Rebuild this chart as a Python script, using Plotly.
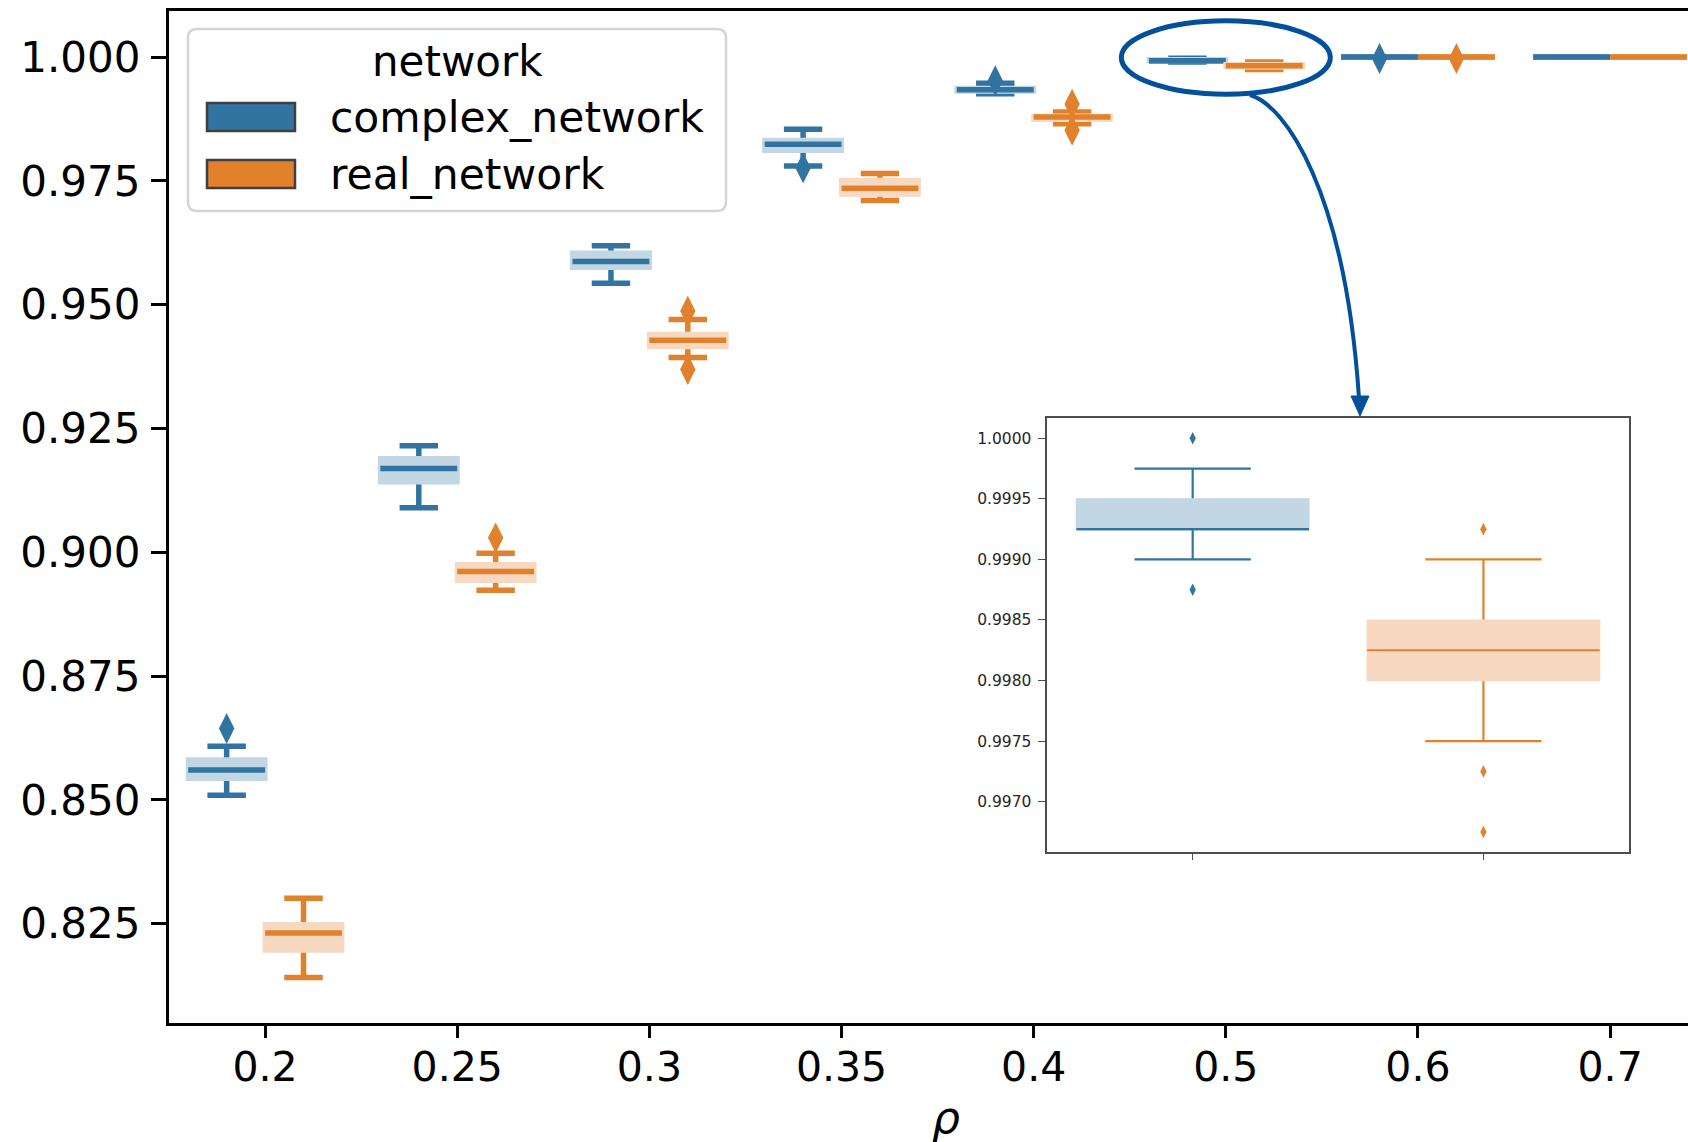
import plotly.graph_objects as go

# ---------------------------------------------------------------- data
CATEGORIES = ["0.2", "0.25", "0.3", "0.35", "0.4", "0.5", "0.6", "0.7"]
SERIES = ["complex_network", "real_network"]

# box statistics per rho value: whisker ends, quartiles and median
complex_lower = [0.8509, 0.9090, 0.9543, 0.9780, 0.9926, 0.99900, 1.0, 1.0]
complex_q1 = [0.8543, 0.9142, 0.9575, 0.9811, 0.9931, 0.99925, 1.0, 1.0]
complex_median = [0.8560, 0.9169, 0.9587, 0.9824, 0.9934, 0.99925, 1.0, 1.0]
complex_q3 = [0.8581, 0.9189, 0.9604, 0.9832, 0.9937, 0.99950, 1.0, 1.0]
complex_upper = [0.8608, 0.9215, 0.9619, 0.9854, 0.9947, 0.99975, 1.0, 1.0]
complex_outliers = [[0.8644], [], [], [0.9776], [0.9952], [], [0.9997], []]

real_lower = [0.8141, 0.8923, 0.9393, 0.9710, 0.9865, 0.99750, 1.0, 1.0]
real_q1 = [0.8196, 0.8943, 0.9415, 0.9723, 0.9874, 0.99800, 1.0, 1.0]
real_median = [0.8231, 0.8961, 0.9428, 0.9735, 0.9879, 0.99825, 1.0, 1.0]
real_q3 = [0.8248, 0.8975, 0.9440, 0.9751, 0.9881, 0.99850, 1.0, 1.0]
real_upper = [0.8301, 0.8998, 0.9470, 0.9765, 0.9889, 0.99900, 1.0, 1.0]
real_outliers = [[], [0.9029], [0.9487, 0.9369], [], [0.9905, 0.9852], [], [0.9997], []]

# magnified view of rho = 0.5
zoom_complex = dict(lower=0.99900, q1=0.99925, median=0.99925, q3=0.99950, upper=0.99975,
                    outliers=[1.0000, 0.99875])
zoom_real = dict(lower=0.99750, q1=0.99800, median=0.99825, q3=0.99850, upper=0.99900,
                 outliers=[0.99925, 0.99725, 0.99675])

MAIN_YTICKS = [0.825, 0.850, 0.875, 0.900, 0.925, 0.950, 0.975, 1.000]
ZOOM_YTICKS = [0.9970, 0.9975, 0.9980, 0.9985, 0.9990, 0.9995, 1.0000]

# ---------------------------------------------------------------- style
BLUE, BLUE_LIGHT = "#3274a1", "rgb(194,214,227)"
ORANGE, ORANGE_LIGHT = "#e1812c", "rgb(246,217,192)"
NAVY = "#02509c"
FONT = "DejaVu Sans"

W, H = 1688, 1142
ML, MR, MT, MB = 169, 0, 11, 119
PW, PH = W - ML - MR, H - MT - MB


def paper(px, py):
    """Pixel position on the page -> paper coordinates."""
    return (px - ML) / PW, (H - MB - py) / PH


fig = go.Figure()


def add_box_group(x, lower, q1, med, q3, upper, dark, light, width, lw, edge, xa, ya):
    common = dict(x=x, width=width, whiskerwidth=0.5, boxpoints=False, xaxis=xa, yaxis=ya,
                  showlegend=False, hoverinfo="skip")
    # whiskers and caps (their inner part is covered by the box drawn next)
    fig.add_trace(go.Box(q1=med, median=med, q3=med, lowerfence=lower, upperfence=upper,
                         line=dict(color=dark, width=lw), fillcolor=dark, **common))
    # pale interquartile box
    fig.add_trace(go.Box(q1=q1, median=q1, q3=q3, lowerfence=q1, upperfence=q3,
                         line=dict(color=light, width=edge), fillcolor=light, **common))
    # median line on top
    fig.add_trace(go.Box(q1=med, median=med, q3=med, lowerfence=med, upperfence=med,
                         line=dict(color=dark, width=lw), fillcolor=dark, **common))


def add_outliers(x, ys, color, size, xa, ya):
    fig.add_trace(go.Scatter(x=x, y=ys, mode="markers", xaxis=xa, yaxis=ya,
                             marker=dict(symbol="diamond-tall", size=size, color=color,
                                         line=dict(width=0)),
                             showlegend=False, hoverinfo="skip"))


# main plot: two hue boxes per rho value
OFFSET, BOX_W = 0.2, 0.4
for stats, dark, light, sign in [
    ((complex_lower, complex_q1, complex_median, complex_q3, complex_upper, complex_outliers),
     BLUE, BLUE_LIGHT, -1),
    ((real_lower, real_q1, real_median, real_q3, real_upper, real_outliers),
     ORANGE, ORANGE_LIGHT, 1),
]:
    lower, q1, med, q3, upper, outl = stats
    pos = [i + sign * OFFSET for i in range(len(CATEGORIES))]
    add_box_group(pos, lower, q1, med, q3, upper, dark, light, BOX_W, 5.5, 5, "x", "y")
    ox = [p for p, vals in zip(pos, outl) for _ in vals]
    oy = [v for vals in outl for v in vals]
    add_outliers(ox, oy, dark, 22, "x", "y")

# inset: rho = 0.5 only, one box per network
for i, (z, dark, light) in enumerate([(zoom_complex, BLUE, BLUE_LIGHT),
                                      (zoom_real, ORANGE, ORANGE_LIGHT)]):
    add_box_group([i], [z["lower"]], [z["q1"]], [z["median"]], [z["q3"]], [z["upper"]],
                  dark, light, 0.8, 2.2, 1.2, "x2", "y2")
    add_outliers([i] * len(z["outliers"]), z["outliers"], dark, 9, "x2", "y2")

# ---------------------------------------------------------------- axes
cat_px = 192.15
fig.update_layout(
    width=W, height=H,
    margin=dict(l=ML, r=MR, t=MT, b=MB, pad=0),
    paper_bgcolor="white", plot_bgcolor="white",
    font=dict(family=FONT, color="#000000"),
    showlegend=False,
    xaxis=dict(
        range=[-0.5, -0.5 + PW / cat_px], tickmode="array",
        tickvals=list(range(len(CATEGORIES))), ticktext=CATEGORIES,
        showgrid=False, zeroline=False, showline=True, linecolor="#000000", linewidth=3.3,
        mirror=True, ticks="outside", ticklen=12, tickwidth=3, tickcolor="#000000",
        tickfont=dict(size=41, family=FONT, color="#000000"), ticklabelstandoff=-6,
    ),
    yaxis=dict(
        range=[0.80493, 1.00929], tickmode="array", tickvals=MAIN_YTICKS,
        ticktext=[f"{v:.3f}" for v in MAIN_YTICKS],
        showgrid=False, zeroline=False, showline=True, linecolor="#000000", linewidth=3.3,
        ticks="outside", ticklen=15, tickwidth=3.3, tickcolor="#000000",
        tickfont=dict(size=42, family=FONT, color="#000000"), ticklabelstandoff=2,
    ),
)

ix0, iy0 = paper(1047.3, 851.7)
ix1, iy1 = paper(1628.8, 418.3)
fig.update_layout(
    xaxis2=dict(
        domain=[ix0, ix1], anchor="y2", range=[-0.5, 1.5], tickmode="array",
        tickvals=[0, 1], ticktext=["", ""],
        showgrid=False, zeroline=False, showline=True, linecolor="#4d4d4d", linewidth=1.6,
        mirror=True, ticks="outside", ticklen=6, tickwidth=1.4, tickcolor="#4d4d4d",
    ),
    yaxis2=dict(
        domain=[iy0, iy1], anchor="x2", range=[0.996587, 1.000165], tickmode="array",
        tickvals=ZOOM_YTICKS, ticktext=[f"{v:.4f}" for v in ZOOM_YTICKS],
        showgrid=False, zeroline=False, showline=True, linecolor="#4d4d4d", linewidth=1.6,
        mirror=True, ticks="outside", ticklen=8, tickwidth=1.4, tickcolor="#4d4d4d",
        tickfont=dict(size=15.5, family=FONT, color="#262626"), ticklabelstandoff=3,
    ),
)

# ---------------------------------------------------------------- annotations
shapes = []
annotations = []

# ellipse around the rho = 0.5 boxes and the curved arrow down to the inset
shapes.append(dict(type="circle", xref="x", yref="y", x0=5 - 0.544, x1=5 + 0.544,
                   y0=0.9999 - 0.00741, y1=0.9999 + 0.00741,
                   line=dict(color=NAVY, width=5), layer="above"))


def pts(*xy):
    return [paper(x, y) for x, y in xy]


(a0, a1, a2, a3) = pts((1250, 95), (1285, 105), (1345, 190), (1359, 398))
shapes.append(dict(type="path", xref="paper", yref="paper",
                   path=f"M{a0[0]},{a0[1]} C{a1[0]},{a1[1]} {a2[0]},{a2[1]} {a3[0]},{a3[1]}",
                   line=dict(color=NAVY, width=4), layer="above"))
(h0, h1, h2) = pts((1351, 396), (1369, 396), (1360, 416))
shapes.append(dict(type="path", xref="paper", yref="paper",
                   path=f"M{h0[0]},{h0[1]} L{h1[0]},{h1[1]} L{h2[0]},{h2[1]} Z",
                   fillcolor=NAVY, line=dict(color=NAVY, width=1), layer="above"))

# legend frame with rounded corners
lx0, ly0, lx1, ly1, r = 188, 29, 726, 211, 9
corners = pts((lx0 + r, ly0), (lx1 - r, ly0), (lx1, ly0), (lx1, ly0 + r), (lx1, ly1 - r),
              (lx1, ly1), (lx1 - r, ly1), (lx0 + r, ly1), (lx0, ly1), (lx0, ly1 - r),
              (lx0, ly0 + r), (lx0, ly0))
c = [f"{p[0]},{p[1]}" for p in corners]
frame_path = (f"M{c[0]} L{c[1]} Q{c[2]} {c[3]} L{c[4]} Q{c[5]} {c[6]} L{c[7]} "
              f"Q{c[8]} {c[9]} L{c[10]} Q{c[11]} {c[0]} Z")
shapes.append(dict(type="path", xref="paper", yref="paper", path=frame_path,
                   fillcolor="rgba(255,255,255,0.8)", line=dict(color="#d4d4d4", width=2.5),
                   layer="above"))

for name, color, (sy0, sy1) in zip(SERIES, [BLUE, ORANGE], [(103, 131), (160, 188)]):
    p0 = paper(207, sy1)
    p1 = paper(295, sy0)
    shapes.append(dict(type="rect", xref="paper", yref="paper", x0=p0[0], y0=p0[1],
                       x1=p1[0], y1=p1[1], fillcolor=color,
                       line=dict(color="#3f3f3f", width=2.5), layer="above"))
    tx, ty = paper(328, (sy0 + sy1) / 2 + 1)
    annotations.append(dict(xref="paper", yref="paper", x=tx, y=ty, text=name,
                            xanchor="left", yanchor="middle", showarrow=False,
                            font=dict(size=42.5, family=FONT, color="#000000")))

tx, ty = paper(457.7, 61)
annotations.append(dict(xref="paper", yref="paper", x=tx, y=ty, text="network",
                        xanchor="center", yanchor="middle", showarrow=False,
                        font=dict(size=42, family=FONT, color="#000000")))

# x-axis label
tx, ty = paper(946, 1117)
annotations.append(dict(xref="paper", yref="paper", x=tx, y=ty, text="<i>ρ</i>",
                        xanchor="center", yanchor="middle", showarrow=False,
                        font=dict(size=44, family=FONT, color="#000000")))

fig.update_layout(shapes=shapes, annotations=annotations)

fig.write_html("out.html")
